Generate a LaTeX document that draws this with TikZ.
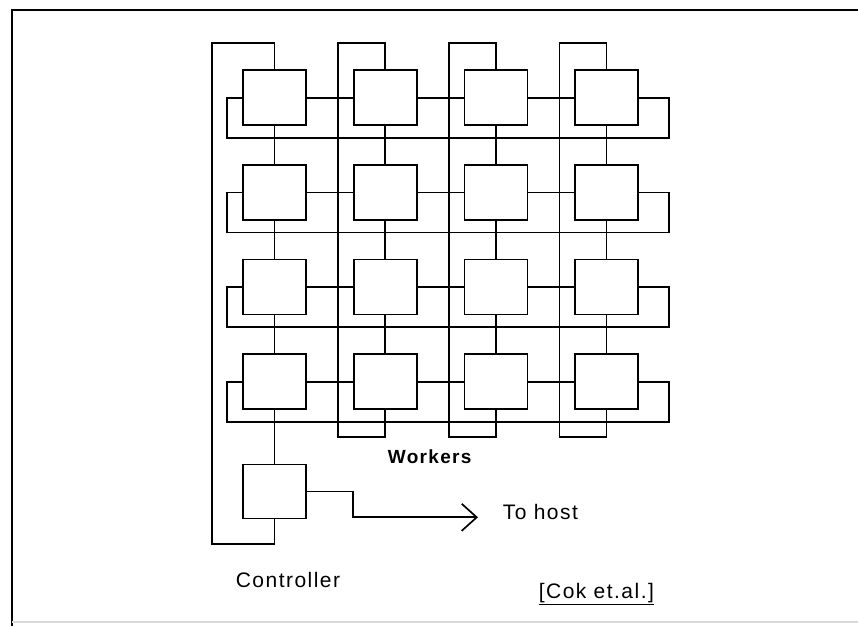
\documentclass[tikz,border=0pt]{standalone}
\usepackage{fontspec}
\setmainfont{Liberation Sans}
\newfontfamily\lblfont[LetterSpace=7]{Liberation Sans}
\usepackage{tikz}
\usetikzlibrary{arrows.meta, positioning, calc}

\begin{document}
\begin{tikzpicture}[x=1pt, y=-1pt, line width=1.7pt,
    cell/.style={draw, minimum width=63pt, minimum height=55pt, inner sep=0pt},
    lbl/.style={inner sep=0pt, anchor=base west, font=\lblfont\fontsize{21}{25}\selectfont}]
  \useasboundingbox (0,0) rectangle (858,626);
  % Page frame
  \draw[line width=2.6pt] (12,626) -- (12,10) -- (858,10);
  \draw[gray!30, line width=2pt] (12,622) -- (858,622);
  % Worker cells
  \foreach \r in {1,...,4} {
    \foreach \c in {1,...,4} {
      \node[cell] (w\r\c) at ({274.5+(\c-1)*110.7}, {97.7+(\r-1)*94.7}) {};
    }
  }
  % Controller
  \node[cell, minimum height=54pt, below=53.5pt of w41] (ctrl) {};
  % Links to neighbours
  \foreach \r in {1,...,4} {
    \foreach \c [evaluate=\c as \n using int(\c+1)] in {1,2,3} {
      \draw (w\r\c) -- (w\r\n);
      \draw (w\c\r) -- (w\n\r);
    }
  }
  % Row wrap-around
  \foreach \r in {1,...,4} {
    \coordinate (re\r) at (669, {137.7+(\r-1)*94.7});
    \coordinate (rw\r) at (227, {97.7+(\r-1)*94.7});
    \draw (w\r4.east) -| (re\r) -| (rw\r) -- (w\r1.west);
  }
  % Column wrap-around
  \foreach \c in {2,3,4} {
    \coordinate (cn\c) at ({227.5+(\c-1)*110.7}, 43);
    \coordinate (cs\c) at ({227.5+(\c-1)*110.7}, 437);
    \draw (w1\c.north) |- (cn\c) -- (cs\c) -| (w4\c.south);
  }
  % First column runs through the controller
  \coordinate (cn1) at (212,43);
  \coordinate (cs1) at (212,544);
  \draw (w11.north) |- (cn1) -- (cs1) -| (ctrl.south);
  \draw (w41) -- (ctrl);
  % Output to host
  \coordinate (bend) at (352.7,517.3);
  \coordinate (tip) at (478,517.3);
  \draw[-{Straight Barb[length=15pt, width=27pt]}] (ctrl.east) -| (bend) -- (tip);
  % Labels
  \node[lbl] (host) at (502,519) {To host};
  \node[lbl, font=\lblfont\bfseries\fontsize{19}{23}\selectfont] (workers) at (387,463) {Workers};
  \node[lbl] (ctrllbl) at (235,587) {Controller};
  \node[lbl] (cite) at (538,598) {\underline{[Cok et.al.]}};
\end{tikzpicture}
\end{document}
